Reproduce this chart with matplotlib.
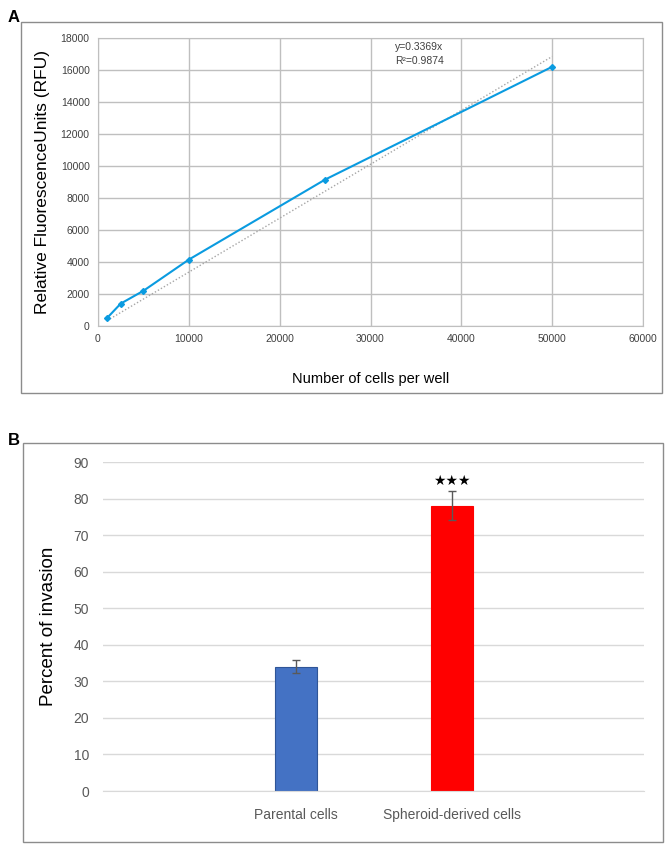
import numpy as np
import matplotlib.pyplot as plt
from matplotlib.patches import Rectangle

# panel A data
cells = [1000, 2500, 5000, 10000, 25000, 50000]
rfu = [500, 1400, 2200, 4150, 9150, 16200]
slope = 0.3369
r2 = 0.9874

# panel B data
groups = ["Parental cells", "Spheroid-derived cells"]
invasion = [34, 78]
invasion_err = [1.8, 4.0]
bar_colors = ["#4472c4", "#ff0000"]

W, H = 666, 846
narrow = ["Liberation Sans Narrow", "Liberation Sans"]
arial = ["Liberation Sans", "DejaVu Sans"]


def px_axes(fig, x0, y0, x1, y1):
    return fig.add_axes([x0 / W, 1 - y1 / H, (x1 - x0) / W, (y1 - y0) / H])


fig = plt.figure(figsize=(W / 100, H / 100), dpi=100)

# outer frames
for (x0, y0, x1, y1) in [(21, 22, 662, 393), (23, 443, 663, 842)]:
    fig.patches.append(Rectangle((x0 / W, 1 - y1 / H), (x1 - x0) / W, (y1 - y0) / H,
                                 transform=fig.transFigure, fill=False,
                                 edgecolor="#8c8c8c", lw=1.0))
fig.text(8 / W, 1 - 17 / H, "A", fontsize=12, fontweight="bold", family=arial, va="center")
fig.text(8 / W, 1 - 440 / H, "B", fontsize=12, fontweight="bold", family=arial, va="center")

# ---- panel A
ax = px_axes(fig, 98, 38, 643, 326)
xx = np.array([cells[0], cells[-1]])
ax.plot(xx, slope * xx, ls=(0, (1, 1.5)), color="#a6a6a6", lw=1.0, zorder=2)
ax.plot(cells, rfu, color="#0a9be0", lw=1.5, marker="D", ms=3, zorder=3)
ax.set_xlim(0, 60000)
ax.set_ylim(0, 18000)
ax.set_xticks(np.arange(0, 60001, 10000))
ax.set_yticks(np.arange(0, 18001, 2000))
ax.grid(True, color="#bfbfbf", lw=1.0)
ax.set_axisbelow(True)
for s in ax.spines.values():
    s.set_color("#bfbfbf")
ax.tick_params(length=0, labelsize=7.5, colors="#404040", pad=6)
for lab in ax.get_xticklabels() + ax.get_yticklabels():
    lab.set_family(narrow)
ax.set_xlabel("Number of cells per well", fontsize=10.5, family=arial, labelpad=20)
ax.set_ylabel("Relative FluorescenceUnits (RFU)", fontsize=12.5, family=arial, labelpad=8)
ax.text(0.545, 0.985, f"y={slope}x\nR\u00b2={r2}", transform=ax.transAxes,
        fontsize=7.5, family=narrow, color="#404040", va="top", linespacing=1.5)

# ---- panel B
bx = px_axes(fig, 103, 462, 644, 791)
pos = np.arange(len(groups))
bx.bar(pos, invasion, width=0.265, color=bar_colors,
       edgecolor=["#2f5597", "#ff0000"], lw=0.8, zorder=2)
bx.errorbar(pos, invasion, yerr=invasion_err, fmt="none", ecolor="#595959",
            elinewidth=1.0, capsize=3, capthick=1.0, zorder=3)
bx.text(pos[1], invasion[1] + invasion_err[1] + 1.0, "\u2605\u2605\u2605",
        ha="center", va="bottom", fontsize=10, family=["DejaVu Sans"])
bx.set_xlim(-1.237, 2.23)
bx.set_ylim(0, 90)
bx.set_yticks(np.arange(0, 91, 10))
bx.set_xticks(pos)
bx.set_xticklabels(groups)
bx.yaxis.grid(True, color="#d9d9d9", lw=1.0)
bx.set_axisbelow(True)
for s in ["top", "right", "left"]:
    bx.spines[s].set_visible(False)
bx.spines["bottom"].set_color("#d9d9d9")
bx.tick_params(length=0, labelsize=10, colors="#595959", pad=10)
bx.tick_params(axis="x", labelsize=10, pad=12)
for lab in bx.get_xticklabels() + bx.get_yticklabels():
    lab.set_family(narrow)
bx.set_ylabel("Percent of invasion", fontsize=13.5, family=arial, labelpad=12)

fig.savefig("out.png", dpi=100)
